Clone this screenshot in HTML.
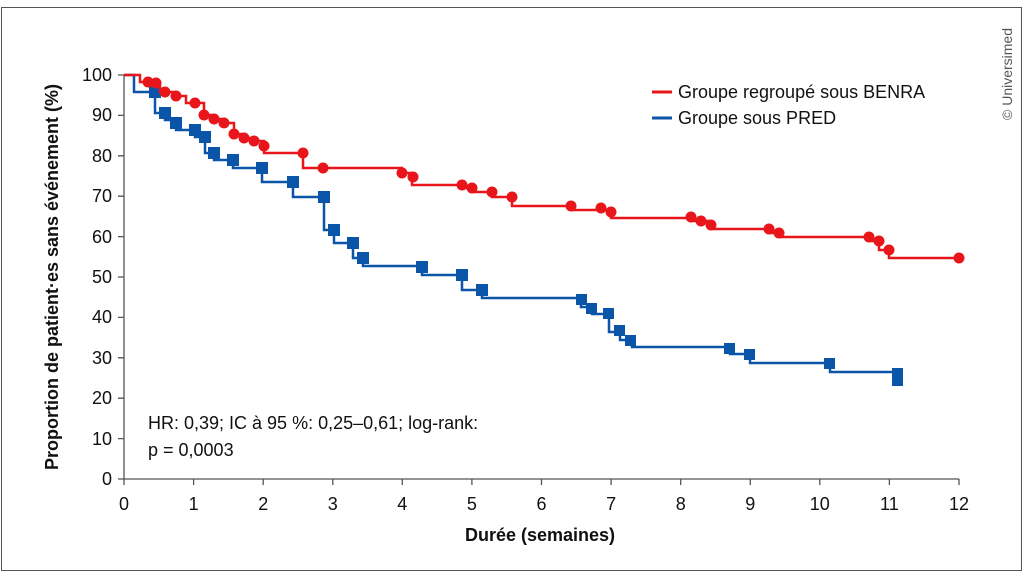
<!DOCTYPE html>
<html><head><meta charset="utf-8"><style>
html,body{margin:0;padding:0;background:#fff;width:1024px;height:576px;overflow:hidden}
svg{display:block;font-family:"Liberation Sans",sans-serif}
</style></head><body>
<svg width="1024" height="576" viewBox="0 0 1024 576">
<rect x="1.5" y="7.5" width="1020" height="563" fill="#fff" stroke="#555" stroke-width="1"/>
<text transform="translate(1012,120) rotate(-90)" font-size="14" fill="#555">© Universimed</text>
<g stroke="#555" stroke-width="1.3" fill="none">
<path d="M124,75 V479 H959"/>
<path d="M118,75H124M118,115.4H124M118,155.8H124M118,196.2H124M118,236.6H124M118,277H124M118,317.4H124M118,357.8H124M118,398.2H124M118,438.6H124M118,479H124"/>
<path d="M124,479V485M193.6,479V485M263.2,479V485M332.8,479V485M402.3,479V485M471.9,479V485M541.5,479V485M611.1,479V485M680.7,479V485M750.3,479V485M819.8,479V485M889.4,479V485M959,479V485"/>
</g>
<g font-size="18" fill="#111" text-anchor="end">
<text x="112" y="81">100</text><text x="112" y="121">90</text><text x="112" y="162">80</text><text x="112" y="202">70</text><text x="112" y="243">60</text><text x="112" y="283">50</text><text x="112" y="323">40</text><text x="112" y="364">30</text><text x="112" y="404">20</text><text x="112" y="445">10</text><text x="112" y="485">0</text>
</g>
<g font-size="18" fill="#111" text-anchor="middle">
<text x="124" y="510">0</text><text x="193.6" y="510">1</text><text x="263.2" y="510">2</text><text x="332.8" y="510">3</text><text x="402.3" y="510">4</text><text x="471.9" y="510">5</text><text x="541.5" y="510">6</text><text x="611.1" y="510">7</text><text x="680.7" y="510">8</text><text x="750.3" y="510">9</text><text x="819.8" y="510">10</text><text x="889.4" y="510">11</text><text x="959" y="510">12</text>
</g>
<text x="540" y="541" font-size="18" font-weight="bold" text-anchor="middle" fill="#111">Durée (semaines)</text>
<text transform="translate(58,277) rotate(-90)" font-size="18" font-weight="bold" text-anchor="middle" fill="#111">Proportion de patient·es sans événement (%)</text>
<text x="148" y="429" font-size="18" fill="#111">HR: 0,39; IC à 95 %: 0,25–0,61; log-rank:</text>
<text x="148" y="456" font-size="18" fill="#111">p = 0,0003</text>
<line x1="652" y1="92" x2="672" y2="92" stroke="#e8161b" stroke-width="3"/>
<text x="678" y="98" font-size="18" fill="#111">Groupe regroupé sous BENRA</text>
<line x1="652" y1="118" x2="672" y2="118" stroke="#0a55a8" stroke-width="3"/>
<text x="678" y="124" font-size="18" fill="#111">Groupe sous PRED</text>
<path fill="none" stroke="#0a55a8" stroke-width="2.5" d="M124,75 H134 V92 H155 V113 H165 V120 H176 V130 H195 V137 H205 V153 H214 V160 H233 V168 H262 V182 H293 V197 H324 V230 H334 V243 H353 V258 H363 V266 H422 V275 H462 V290 H482 V298 H581 V307 H592 V314 H609 V332 H620 V340 H632 V347 H730 V354 H750 V363 H830 V372 H897"/>
<g fill="#0a55a8">
<rect x="149" y="86" width="12" height="12"/><rect x="159" y="107" width="12" height="12"/><rect x="170" y="117" width="12" height="12"/><rect x="189" y="124" width="12" height="12"/><rect x="199" y="131" width="12" height="12"/><rect x="208" y="147" width="12" height="12"/><rect x="227" y="154" width="12" height="12"/><rect x="256" y="162" width="12" height="12"/><rect x="287" y="176" width="12" height="12"/><rect x="318" y="191" width="12" height="12"/><rect x="328" y="224" width="12" height="12"/><rect x="347" y="237" width="12" height="12"/><rect x="357" y="252" width="12" height="12"/><rect x="416" y="261" width="12" height="12"/><rect x="456" y="269" width="12" height="12"/><rect x="476" y="284" width="12" height="12"/>
<rect x="576" y="294" width="11" height="11"/><rect x="586" y="303" width="11" height="11"/><rect x="603" y="308" width="11" height="11"/><rect x="614" y="325" width="11" height="11"/><rect x="625" y="335" width="11" height="11"/><rect x="724" y="343" width="11" height="11"/><rect x="744" y="349" width="11" height="11"/><rect x="824" y="358" width="11" height="11"/><rect x="892" y="368" width="11" height="18"/>
</g>
<path fill="none" stroke="#e8161b" stroke-width="2.5" d="M124,75 H140 V82 H160 V92 H176 V96 H186 V103 H204 V115 H214 V119 H224 V123 H234 V134 H244 V138 H254 V141 H264 V153 H303 V168 H402 V173 H412 V185 H462 V188 H472 V192 H492 V197 H512 V206 H571 V210 H611 V218 H691 V221 H711 V229 H769 V233 H779 V237 H869 V241 H879 V250 H889 V258 H959"/>
<g fill="#e8161b">
<circle cx="148" cy="82" r="5.5"/><circle cx="156" cy="83" r="5.5"/><circle cx="165" cy="92" r="5.5"/><circle cx="176" cy="96" r="5.5"/><circle cx="195" cy="103" r="5.5"/><circle cx="204" cy="115" r="5.5"/><circle cx="214" cy="119" r="5.5"/><circle cx="224" cy="123" r="5.5"/><circle cx="234" cy="134" r="5.5"/><circle cx="244" cy="138" r="5.5"/><circle cx="254" cy="141" r="5.5"/><circle cx="264" cy="146" r="5.5"/><circle cx="303" cy="153" r="5.5"/><circle cx="323" cy="168" r="5.5"/><circle cx="402" cy="173" r="5.5"/><circle cx="413" cy="177" r="5.5"/><circle cx="462" cy="185" r="5.5"/><circle cx="472" cy="188" r="5.5"/><circle cx="492" cy="192" r="5.5"/><circle cx="512" cy="197" r="5.5"/>
<circle cx="571" cy="206" r="5.5"/><circle cx="601" cy="208" r="5.5"/><circle cx="611" cy="212" r="5.5"/><circle cx="691" cy="217" r="5.5"/><circle cx="701" cy="221" r="5.5"/><circle cx="711" cy="225" r="5.5"/><circle cx="769" cy="229" r="5.5"/><circle cx="779" cy="233" r="5.5"/><circle cx="869" cy="237" r="5.5"/><circle cx="879" cy="241" r="5.5"/><circle cx="889" cy="250" r="5.5"/><circle cx="959" cy="258" r="5.5"/>
</g>
</svg>
</body></html>
